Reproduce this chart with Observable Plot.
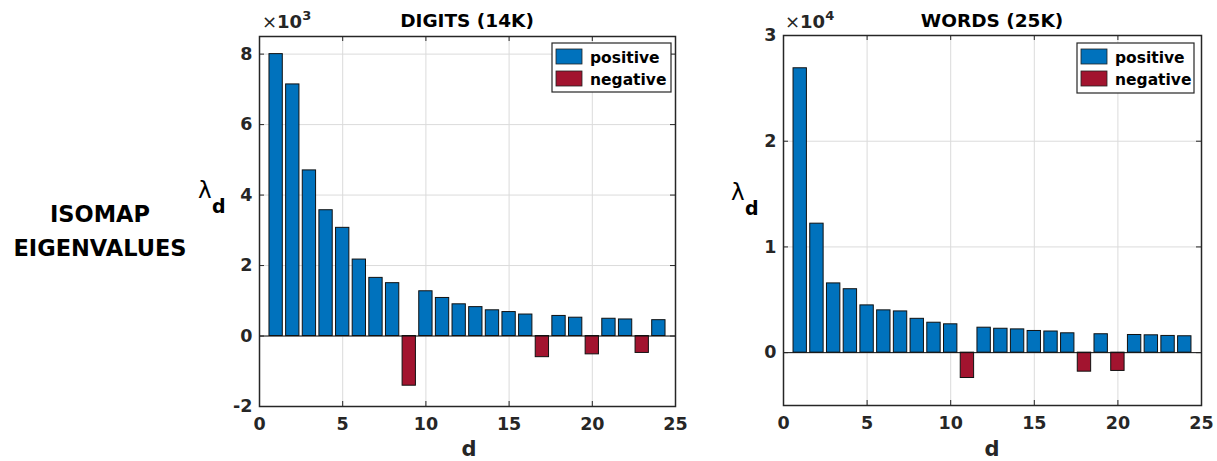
<!DOCTYPE html>
<html>
<head>
<meta charset="utf-8">
<script src="https://cdn.jsdelivr.net/npm/d3@7"></script>
<script src="https://cdn.jsdelivr.net/npm/@observablehq/plot@0.6"></script>
<style>
  body { margin: 0; background: #fff; }
  #root { position: relative; width: 1217px; height: 461px; overflow: hidden; font-family: "DejaVu Sans", sans-serif; }
  .chart { position: absolute; top: 0; }
  #overlay { position: absolute; left: 0; top: 0; pointer-events: none; }
</style>
</head>
<body>
<div id="root"></div>
<script>
// ---- data ----
const dims = [1,2,3,4,5,6,7,8,9,10,11,12,13,14,15,16,17,18,19,20,21,22,23,24];
// DIGITS (14K), values in units of 10^3
const digitsValues = [8.0, 7.14, 4.70, 3.57, 3.07, 2.17, 1.65, 1.50, -1.41, 1.27, 1.08, 0.90,
                      0.82, 0.73, 0.68, 0.61, -0.60, 0.57, 0.52, -0.52, 0.49, 0.47, -0.48, 0.45];
// WORDS (25K), values in units of 10^4
const wordsValues = [2.69, 1.22, 0.655, 0.60, 0.447, 0.40, 0.39, 0.32, 0.283, 0.268, -0.24, 0.236,
                     0.226, 0.22, 0.205, 0.20, 0.183, -0.18, 0.174, -0.173, 0.167, 0.164, 0.158, 0.155];
const xTicks = [0, 5, 10, 15, 20, 25];
const digitsYTicks = [-2, 0, 2, 4, 6, 8];
const wordsYTicks = [0, 1, 2, 3];
const signCategories = ["positive", "negative"];
const signColors = ["#0072BD", "#A2142F"];
const titles = ["DIGITS (14K)", "WORDS (25K)"];
const exponents = ["3", "4"];
const rowLabel = ["ISOMAP", "EIGENVALUES"];

const root = document.getElementById("root");
const FONT = "DejaVu Sans, sans-serif";
const TXT = "#262626";

function makeChart(values, yDomain, yTicks, cfg) {
  const data = dims.map((d, i) => ({d, v: values[i], sign: values[i] >= 0 ? "positive" : "negative"}));
  const plotW = cfg.width - cfg.ml - cfg.mr;
  const plotH = cfg.height - cfg.mt - cfg.mb;
  const tick = 5;
  const chart = Plot.plot({
    width: cfg.width,
    height: cfg.height,
    marginLeft: cfg.ml, marginRight: cfg.mr, marginTop: cfg.mt, marginBottom: cfg.mb,
    style: {fontFamily: FONT, background: "transparent", overflow: "visible"},
    x: {domain: [0, 25]},
    y: {domain: yDomain},
    color: {domain: signCategories, range: signColors},
    marks: [
      Plot.gridX(xTicks, {stroke: "#dbdbdb", strokeOpacity: 1, strokeWidth: 1}),
      Plot.gridY(yTicks, {stroke: "#dbdbdb", strokeOpacity: 1, strokeWidth: 1}),
      Plot.rectY(data, {x1: r => r.d - 0.4, x2: r => r.d + 0.4, y1: 0, y2: "v", fill: "sign", stroke: "#111", strokeWidth: 1}),
      Plot.ruleY([0], {stroke: "#111", strokeWidth: 1}),
      // inward tick marks on all four sides
      Plot.ruleX(xTicks, {x: d => d, insetTop: plotH - tick, stroke: TXT, strokeWidth: 1}),
      Plot.ruleX(xTicks, {x: d => d, insetBottom: plotH - tick, stroke: TXT, strokeWidth: 1}),
      Plot.ruleY(yTicks, {y: d => d, insetRight: plotW - tick, stroke: TXT, strokeWidth: 1}),
      Plot.ruleY(yTicks, {y: d => d, insetLeft: plotW - tick, stroke: TXT, strokeWidth: 1}),
      Plot.frame({stroke: TXT, strokeWidth: 1.5}),
      Plot.axisX(xTicks, {tickSize: 0, tickPadding: 11, tickFormat: d => String(d), label: null,
        fontSize: 17.5, fontWeight: "bold", fill: TXT}),
      Plot.axisY(yTicks, {tickSize: 0, tickPadding: 7, tickFormat: d => String(d), label: null,
        fontSize: 17.5, fontWeight: "bold", fill: TXT})
    ]
  });
  chart.classList.add("chart");
  chart.style.left = cfg.left + "px";
  root.appendChild(chart);
}

makeChart(digitsValues, [-2, 8.5], digitsYTicks, {left: 190, width: 500, height: 461, ml: 69, mr: 15, mt: 36, mb: 55});
makeChart(wordsValues, [-0.5, 3], wordsYTicks, {left: 715, width: 500, height: 461, ml: 68, mr: 14, mt: 35, mb: 56});

// ---- overlay texts and legends ----
const ns = "http://www.w3.org/2000/svg";
const svg = document.createElementNS(ns, "svg");
svg.setAttribute("id", "overlay");
svg.setAttribute("width", 1217);
svg.setAttribute("height", 461);
root.appendChild(svg);

function text(x, y, str, attrs = {}) {
  const t = document.createElementNS(ns, "text");
  t.setAttribute("x", x); t.setAttribute("y", y);
  t.setAttribute("font-family", FONT);
  for (const k in attrs) t.setAttribute(k, attrs[k]);
  t.textContent = str;
  svg.appendChild(t);
  return t;
}
function rect(x, y, w, h, fill, stroke, sw) {
  const r = document.createElementNS(ns, "rect");
  r.setAttribute("x", x); r.setAttribute("y", y); r.setAttribute("width", w); r.setAttribute("height", h);
  r.setAttribute("fill", fill); r.setAttribute("stroke", stroke); r.setAttribute("stroke-width", sw);
  svg.appendChild(r);
}

const panels = [
  {cx: 467, titleY: 27, expX: 262, lamX: 198, lamY: 198, legX: 552, legY: 43, legW: 119, legH: 49, dx: 469},
  {cx: 992, titleY: 27, expX: 785, lamX: 731, lamY: 200, legX: 1077, legY: 43, legW: 117, legH: 50, dx: 992}
];
panels.forEach((p, i) => {
  text(p.cx, p.titleY, titles[i], {"text-anchor": "middle", "font-size": 18.5, "font-weight": "bold", fill: "#000"});
  // exponent multiplier
  const e = text(p.expX, 28, "", {"font-size": 18, fill: TXT});
  const t1 = document.createElementNS(ns, "tspan"); t1.textContent = "×"; t1.setAttribute("font-weight", "normal");
  const t2 = document.createElementNS(ns, "tspan"); t2.textContent = "10"; t2.setAttribute("font-weight", "bold");
  const t3 = document.createElementNS(ns, "tspan"); t3.textContent = exponents[i]; t3.setAttribute("font-weight", "bold");
  t3.setAttribute("font-size", 13); t3.setAttribute("dy", -8);
  e.append(t1, t2, t3);
  // y label lambda_d
  text(p.lamX, p.lamY, "λ", {"font-size": 23, fill: "#000"});
  text(p.lamX + 14, p.lamY + 15, "d", {"font-size": 19, "font-weight": "bold", fill: "#000"});
  // x label
  text(p.dx, 456, "d", {"text-anchor": "middle", "font-size": 21, "font-weight": "bold", fill: TXT});
  // legend
  rect(p.legX, p.legY, p.legW, p.legH, "#fff", TXT, 1.2);
  signCategories.forEach((c, j) => {
    rect(p.legX + 4, p.legY + 6 + j * 22, 26, 15, signColors[j], "#222", 0.8);
    text(p.legX + 38, p.legY + 20 + j * 22, c, {"font-size": 15.5, "font-weight": "bold", fill: "#000"});
  });
});

// row label
text(100, 222, rowLabel[0], {"text-anchor": "middle", "font-size": 22.5, "font-weight": "bold", fill: "#000"});
text(100, 256, rowLabel[1], {"text-anchor": "middle", "font-size": 22.5, "font-weight": "bold", fill: "#000"});
</script>
</body>
</html>
